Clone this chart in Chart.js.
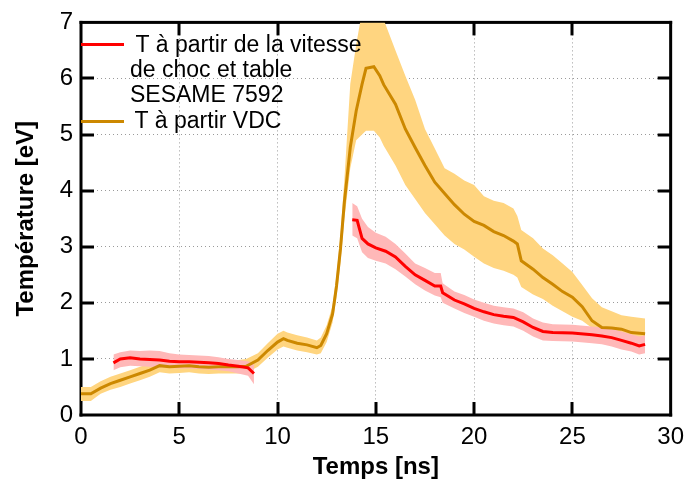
<!DOCTYPE html>
<html>
<head>
<meta charset="utf-8">
<script src="https://cdn.jsdelivr.net/npm/chart.js@4.4.1/dist/chart.umd.min.js"></script>
<style>
  html, body { margin: 0; padding: 0; background: #fff; }
</style>
</head>
<body>
<canvas id="chart" width="692" height="490"></canvas>
<script>
// Température vs temps — T from shock velocity (red) and T from VDC (orange)

const FONT = "'Liberation Sans', Arial, sans-serif";
const COLORS = {
  red:      "#ff0000",
  redBand:  "#ffb8b8",
  vdc:      "#cc8800",
  vdcBand:  "#ffd580",
  grid:     "#9a9a9a",
};

const X_TICKS = [0, 5, 10, 15, 20, 25, 30];
const Y_TICKS = [0, 1, 2, 3, 4, 5, 6, 7];

const LEGEND_RED = [" T à partir de la vitesse", "de choc et table", "SESAME 7592"];
const LEGEND_VDC = " T à partir VDC";

// red curve, first part (before the gap)
const redT1  = [1.65, 2.0, 2.5, 3.0, 3.5, 4.0, 4.5, 5.0, 5.5, 6.0, 6.5, 7.0, 7.5, 8.0, 8.5, 8.8];
const redV1  = [0.93, 1.00, 1.02, 1.00, 0.99, 0.98, 0.96, 0.95, 0.95, 0.94, 0.93, 0.92, 0.89, 0.87, 0.84, 0.74];
const redLo1 = [0.80, 0.85, 0.88, 0.87, 0.86, 0.85, 0.84, 0.83, 0.83, 0.82, 0.81, 0.80, 0.78, 0.74, 0.70, 0.55];
const redHi1 = [1.08, 1.12, 1.15, 1.14, 1.15, 1.14, 1.10, 1.08, 1.07, 1.06, 1.05, 1.03, 1.00, 0.98, 0.96, 0.90];

// red curve, second part
const redT2  = [13.8, 14.05, 14.3, 14.6, 15.0, 15.5, 16.0, 16.5, 17.0, 17.5, 18.0, 18.3, 18.4, 19.0, 19.5, 20.0,
                20.5, 21.0, 21.5, 22.0, 22.5, 23.0, 23.5, 24.0, 25.0, 26.0, 26.5, 27.0, 27.5, 28.0, 28.4, 28.7];
const redV2  = [3.48, 3.47, 3.15, 3.05, 2.98, 2.92, 2.82, 2.65, 2.50, 2.40, 2.30, 2.30, 2.18, 2.05, 1.98, 1.90,
                1.84, 1.79, 1.76, 1.74, 1.66, 1.56, 1.49, 1.47, 1.46, 1.43, 1.41, 1.38, 1.33, 1.28, 1.23, 1.26];
const redLo2 = [3.20, 3.15, 2.90, 2.80, 2.75, 2.70, 2.60, 2.47, 2.33, 2.22, 2.13, 2.10, 2.00, 1.90, 1.82, 1.75,
                1.68, 1.63, 1.60, 1.58, 1.50, 1.40, 1.33, 1.32, 1.31, 1.28, 1.26, 1.22, 1.17, 1.13, 1.08, 1.10];
const redHi2 = [3.78, 3.72, 3.50, 3.35, 3.25, 3.18, 3.05, 2.88, 2.70, 2.62, 2.53, 2.53, 2.35, 2.20, 2.14, 2.06,
                2.00, 1.95, 1.92, 1.90, 1.83, 1.72, 1.65, 1.62, 1.61, 1.58, 1.56, 1.54, 1.49, 1.44, 1.40, 1.42];

// orange curve (VDC)
const vdcT  = [0.0, 0.5, 1.0, 1.5, 2.0, 2.5, 3.0, 3.5, 4.0, 4.5, 5.0, 5.5, 6.0, 6.5, 7.0, 7.5, 8.0, 8.4, 9.0, 9.5,
               10.0, 10.3, 10.5, 11.0, 11.5, 12.0, 12.2, 12.5, 12.8, 13.0, 13.2, 13.4, 13.7, 14.0, 14.3, 14.5, 14.9,
               15.2, 15.4, 16.0, 16.5, 17.0, 17.5, 18.0, 18.5, 19.0, 19.5, 20.0, 20.5, 21.0, 21.5, 22.0, 22.2, 22.4,
               23.0, 23.5, 24.0, 24.5, 25.0, 25.5, 26.0, 26.5, 27.0, 27.5, 28.0, 28.7];
const vdcV  = [0.38, 0.38, 0.48, 0.56, 0.62, 0.68, 0.74, 0.80, 0.88, 0.86, 0.87, 0.88, 0.86, 0.85, 0.86, 0.86, 0.86, 0.87, 0.98, 1.15,
               1.30, 1.36, 1.33, 1.28, 1.25, 1.20, 1.24, 1.45, 1.80, 2.30, 2.96, 3.80, 4.77, 5.42, 5.90, 6.18, 6.21,
               6.05, 5.89, 5.54, 5.10, 4.77, 4.45, 4.15, 3.95, 3.75, 3.58, 3.45, 3.38, 3.27, 3.20, 3.10, 3.05, 2.75,
               2.60, 2.45, 2.33, 2.20, 2.10, 1.93, 1.68, 1.56, 1.55, 1.53, 1.47, 1.45];
const vdcLo = [0.25, 0.25, 0.38, 0.45, 0.50, 0.56, 0.62, 0.68, 0.76, 0.74, 0.75, 0.76, 0.74, 0.73, 0.74, 0.74, 0.74, 0.75, 0.86, 1.02,
               1.17, 1.22, 1.20, 1.15, 1.12, 1.08, 1.10, 1.30, 1.65, 2.10, 2.70, 3.50, 4.40, 4.90, 5.00, 5.07, 5.07,
               4.95, 4.80, 4.45, 4.10, 3.85, 3.60, 3.40, 3.20, 3.05, 2.95, 2.82, 2.70, 2.62, 2.57, 2.50, 2.45, 2.28,
               2.15, 2.07, 1.95, 1.85, 1.75, 1.68, 1.55, 1.50, 1.42, 1.40, 1.33, 1.32];
const vdcHi = [0.50, 0.50, 0.60, 0.68, 0.74, 0.80, 0.86, 0.92, 1.00, 0.98, 0.99, 1.00, 0.98, 0.97, 0.98, 0.98, 0.98, 1.00, 1.10, 1.28,
               1.45, 1.50, 1.47, 1.42, 1.38, 1.33, 1.38, 1.60, 1.95, 2.50, 3.20, 4.20, 5.90, 6.60, 7.20, 7.20, 7.20,
               7.20, 7.05, 6.50, 6.05, 5.62, 5.10, 4.75, 4.40, 4.30, 4.18, 4.10, 3.90, 3.82, 3.78, 3.68, 3.55, 3.30,
               3.15, 2.97, 2.85, 2.70, 2.55, 2.32, 2.08, 1.92, 1.85, 1.78, 1.75, 1.72];

const pts = (xs, ys) => xs.map((x, i) => ({ x, y: ys[i] }));

function line(data, color, order) {
  return { data, borderColor: color, borderWidth: 3, pointRadius: 0, fill: false, order };
}
function band(data, color, target, order) {
  return { data, borderWidth: 0, borderColor: "transparent", backgroundColor: color,
           pointRadius: 0, fill: target === null ? false : target, order };
}

// frame with inward ticks on all four sides, under the data like the original
function drawFrame(chart) {
  const ctx = chart.ctx, a = chart.chartArea, x = chart.scales.x, y = chart.scales.y;
  const tl = 13;
  ctx.save();
  ctx.fillStyle = "#000";
  X_TICKS.slice(1, -1).forEach(v => {
    const px = Math.round(x.getPixelForValue(v));
    ctx.fillRect(px - 1.5, a.bottom - tl, 3, tl);
    ctx.fillRect(px - 1.5, a.top, 3, tl);
  });
  Y_TICKS.slice(1, -1).forEach(v => {
    const py = Math.round(y.getPixelForValue(v));
    ctx.fillRect(a.left, py - 1.5, tl, 3);
    ctx.fillRect(a.right - tl, py - 1.5, tl, 3);
  });
  ctx.fillRect(a.left - 1.5, a.top - 1.5, a.right - a.left + 3, 3);
  ctx.fillRect(a.left - 1.5, a.bottom - 1.5, a.right - a.left + 3, 3);
  ctx.fillRect(a.left - 1.5, a.top - 1.5, 3, a.bottom - a.top + 3);
  ctx.fillRect(a.right - 1.5, a.top - 1.5, 3, a.bottom - a.top + 3);
  ctx.restore();
}

const framePlugin = {
  id: "frame",
  beforeDatasetsDraw(chart) {
    drawFrame(chart);
  },
  afterDraw(chart) {
    const ctx = chart.ctx, a = chart.chartArea;
    ctx.save();
    ctx.font = "23px " + FONT;
    ctx.textBaseline = "alphabetic";
    ctx.fillStyle = COLORS.red;
    ctx.fillRect(a.left, 43, 43, 3);
    ctx.fillStyle = COLORS.vdc;
    ctx.fillRect(a.left, 120, 43, 3);
    ctx.fillStyle = "#000";
    ctx.fillText(LEGEND_RED[0], 129, 52);
    ctx.fillText(LEGEND_RED[1], 130, 77);
    ctx.fillText(LEGEND_RED[2], 130, 102);
    ctx.fillText(LEGEND_VDC, 128, 128);
    ctx.restore();
  },
};

new Chart(document.getElementById("chart"), {
  type: "line",
  data: {
    datasets: [
      line(pts(redT1, redV1), COLORS.red, 0),
      line(pts(redT2, redV2), COLORS.red, 0),
      line(pts(vdcT, vdcV), COLORS.vdc, 1),
      band(pts(redT1, redHi1), COLORS.redBand, 4, 3),
      band(pts(redT1, redLo1), COLORS.redBand, null, 3),
      band(pts(redT2, redHi2), COLORS.redBand, 6, 3),
      band(pts(redT2, redLo2), COLORS.redBand, null, 3),
      band(pts(vdcT, vdcHi), COLORS.vdcBand, 8, 5),
      band(pts(vdcT, vdcLo), COLORS.vdcBand, null, 5),
    ],
  },
  plugins: [framePlugin],
  options: {
    responsive: false,
    devicePixelRatio: 1,
    animation: false,
    layout: { padding: { left: 0, right: 15, top: 17, bottom: 0 } },
    plugins: { legend: { display: false }, tooltip: { enabled: false } },
    scales: {
      x: {
        type: "linear", min: 0, max: 30,
        afterBuildTicks: s => { s.ticks = X_TICKS.map(v => ({ value: v })); },
        afterFit: s => { s.height = 75; },
        ticks: { color: "#000", padding: 8, font: { family: FONT, size: 24 } },
        grid: { color: COLORS.grid, lineWidth: 1, drawTicks: false },
        border: { display: false, dash: [1, 3] },
        title: { display: true, text: "Temps [ns]", color: "#000",
                 font: { family: FONT, size: 24, weight: "bold" }, padding: { top: 0, bottom: 8 } },
      },
      y: {
        min: 0, max: 7,
        afterBuildTicks: s => { s.ticks = Y_TICKS.map(v => ({ value: v })); },
        afterFit: s => { s.width = 81; },
        ticks: { color: "#000", padding: 8, font: { family: FONT, size: 24 } },
        grid: { color: COLORS.grid, lineWidth: 1, drawTicks: false },
        border: { display: false, dash: [1, 3] },
        title: { display: true, text: "Température [eV]", color: "#000",
                 font: { family: FONT, size: 24, weight: "bold" }, padding: { top: 12, bottom: 0 } },
      },
    },
  },
});
</script>
</body>
</html>
